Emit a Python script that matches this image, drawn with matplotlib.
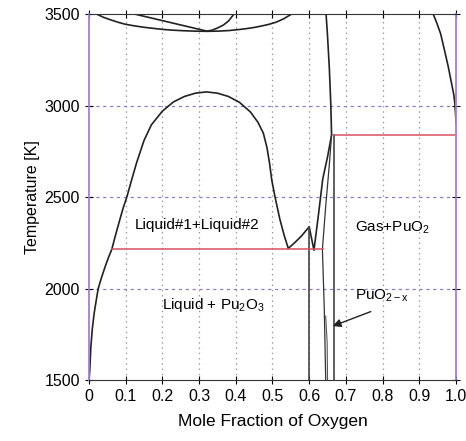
import numpy as np
import matplotlib
matplotlib.use("Agg")
import matplotlib.pyplot as plt

plt.rcParams['font.family'] = ['Liberation Sans', 'DejaVu Sans']
plt.rcParams['mathtext.fontset'] = 'custom'
plt.rcParams['mathtext.rm'] = 'Liberation Sans'

# liquidus / miscibility dome (x = mole fraction O, T in K)
dome_x = [0.0, 0.002, 0.005, 0.009, 0.014, 0.02, 0.025, 0.034, 0.044, 0.053, 0.062,
          0.072, 0.083, 0.093, 0.103, 0.116, 0.13, 0.15, 0.17, 0.20, 0.23, 0.26, 0.29,
          0.32, 0.35, 0.38, 0.41, 0.44, 0.46, 0.475, 0.485, 0.492, 0.498, 0.507,
          0.52, 0.532, 0.543,
          0.560, 0.580, 0.600, 0.613, 0.625, 0.637, 0.650, 0.661,
          0.659, 0.655, 0.650, 0.646]
dome_t = [1500, 1550, 1680, 1780, 1865, 1940, 2000, 2060, 2120, 2170, 2214,
          2290, 2370, 2440, 2500, 2593, 2690, 2810, 2895, 2970, 3020, 3050, 3068,
          3075, 3068, 3050, 3018, 2965, 2910, 2850, 2770, 2685, 2593, 2500,
          2380, 2290, 2220,
          2250, 2290, 2338, 2210, 2400, 2600, 2720, 2840,
          3000, 3200, 3380, 3500]

# Pu2O3 line compound
pu2o3_x = [0.600, 0.600]
pu2o3_t = [1500, 2338]

# PuO2-x left boundary
puo2x_x = [0.645, 0.641, 0.636, 0.645, 0.655, 0.661]
puo2x_t = [1500, 1900, 2214, 2450, 2680, 2840]
puo2x2_x = [0.650, 0.649, 0.645]
puo2x2_t = [1500, 1700, 1850]

# PuO2 right boundary
puo2_x = [0.667, 0.667]
puo2_t = [1500, 2840]

# gas boundary
gas_x = [0.938, 0.948, 0.958, 0.969, 0.979, 0.988, 0.994, 0.997, 0.999, 1.0]
gas_t = [3500, 3450, 3394, 3300, 3212, 3121, 3060, 3012, 2950, 2900]

# high temperature features at the top
lens_x = [0.021, 0.04, 0.06, 0.08, 0.098, 0.12, 0.15, 0.18, 0.203, 0.23, 0.26, 0.29,
          0.321, 0.35, 0.38, 0.41, 0.43, 0.45, 0.47, 0.49, 0.51, 0.53, 0.552]
lens_t = [3500, 3482, 3468, 3455, 3445, 3437, 3428, 3421, 3416, 3412, 3409, 3407,
          3406, 3407, 3410, 3416, 3421, 3427, 3435, 3444, 3456, 3474, 3500]
upper_x = [0.125, 0.321, 0.335, 0.35, 0.366, 0.38, 0.395]
upper_t = [3500, 3407, 3412, 3424, 3440, 3462, 3500]

# invariant lines
eut_x = [0.062, 0.638]
eut_t = [2214, 2214]
gas_inv_x = [0.667, 1.0]
gas_inv_t = [2840, 2840]

xticks = [0, 0.1, 0.2, 0.3, 0.4, 0.5, 0.6, 0.7, 0.8, 0.9, 1.0]
xtick_labels = ['0', '0.1', '0.2', '0.3', '0.4', '0.5', '0.6', '0.7', '0.8', '0.9', '1.0']
yticks = [1500, 2000, 2500, 3000, 3500]

purple = '#a27fd6'

fig = plt.figure(figsize=(4.66, 4.41), dpi=100)
ax = fig.add_axes([0.191, 0.138, 0.7875, 0.830])

# grid
for xv in xticks[1:-1]:
    ax.axvline(xv, color='#9a9a9a', lw=0.9, ls=(0, (1.2, 3)), zorder=0)
for tv in [2000, 2500, 3000]:
    ax.axhline(tv, color='#8f78c8', lw=0.9, ls=(0, (2.5, 3)), zorder=0)

lw = 1.2
ax.plot(dome_x, dome_t, color='#222222', lw=lw)
ax.plot(pu2o3_x, pu2o3_t, color='#444444', lw=lw)
ax.plot(puo2x_x, puo2x_t, color='#333333', lw=0.9)
ax.plot(puo2x2_x, puo2x2_t, color='#555555', lw=0.8)
ax.plot(puo2_x, puo2_t, color='#444444', lw=lw)
ax.plot(gas_x, gas_t, color='#222222', lw=lw)
ax.plot(lens_x, lens_t, color='#222222', lw=lw)
ax.plot(upper_x, upper_t, color='#222222', lw=lw)
ax.plot(eut_x, eut_t, color='#d8505e', lw=1.1)
ax.plot(gas_inv_x, gas_inv_t, color='#d8505e', lw=1.1)

ax.text(0.295, 2347, 'Liquid#1+Liquid#2', ha='center', va='center', fontsize=11)
ax.text(0.339, 1910, r'Liquid + Pu$\mathregular{_2}$O$\mathregular{_3}$', ha='center', va='center', fontsize=11)
ax.text(0.826, 2330, r'Gas+PuO$\mathregular{_2}$', ha='center', va='center', fontsize=11)
ax.text(0.80, 1960, r'PuO$\mathregular{_{2-x}}$', ha='center', va='center', fontsize=11)
ax.annotate('', xy=(0.657, 1790), xytext=(0.775, 1880),
            arrowprops=dict(arrowstyle='-|>', color='#222222', lw=1.0, mutation_scale=12))

ax.set_xlim(0, 1.0)
ax.set_ylim(1500, 3500)
ax.set_xticks(xticks)
ax.set_xticklabels(xtick_labels)
ax.set_yticks(yticks)
ax.tick_params(direction='inout', length=6, width=0.8, labelsize=11.5,
               top=True, right=True)

ax.spines['left'].set_color(purple)
ax.spines['right'].set_color(purple)
ax.spines['left'].set_linewidth(1.3)
ax.spines['right'].set_linewidth(1.3)
ax.spines['top'].set_color('#333333')
ax.spines['bottom'].set_color('#333333')

ax.set_xlabel('Mole Fraction of Oxygen', fontsize=12.5, labelpad=7)
ax.set_ylabel('Temperature [K]', fontsize=11.5, labelpad=3)

fig.savefig('out.png', dpi=100)
